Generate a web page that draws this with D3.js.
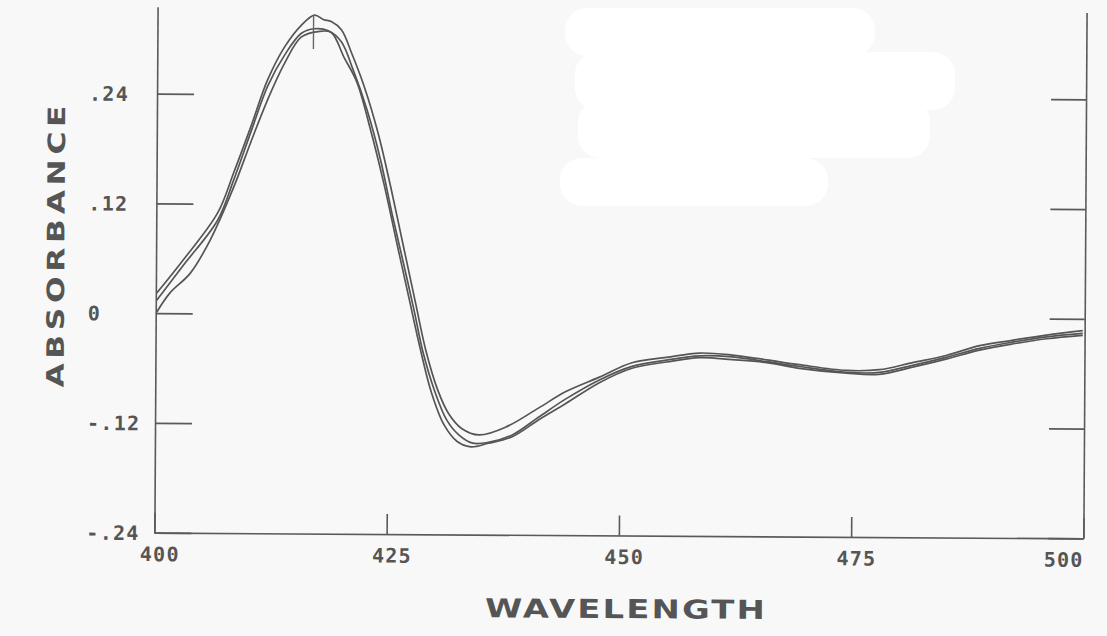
<!DOCTYPE html>
<html>
<head>
<meta charset="utf-8">
<script src="https://cdn.jsdelivr.net/npm/d3@7"></script>
<style>
  body { margin: 0; background: #f8f8f8; }
  svg { display: block; }
  .lbl { font-family: "DejaVu Sans Mono", monospace; font-weight: bold; fill: #555; }
  .title { font-family: "DejaVu Sans", sans-serif; font-weight: bold; fill: #555; }
</style>
</head>
<body>
<div id="chart"></div>
<script>
// wavelength (nm) ticks and absorbance ticks
const wavelengthTicks = [400, 425, 450, 475, 500];
const absorbanceTicks = [-0.24, -0.12, 0, 0.12, 0.24];
const absorbanceLabels = ["-.24", "-.12", "0", ".12", ".24"];

// three scans, [wavelength, absorbance]
const scan1 = [[400.1,0.022],[402.9,0.058],[406.6,0.110],[408.3,0.154],[410.1,0.204],[411.9,0.256],[413.7,0.292],[415.5,0.316],[416.9,0.327],[417.9,0.322],[418.7,0.320],[419.8,0.311],[420.9,0.286],[422.3,0.249],[423.8,0.199],[425.2,0.140],[426.7,0.071],[428.0,0.011],[429.1,-0.039],[430.4,-0.082],[431.6,-0.108],[433.0,-0.124],[434.9,-0.131],[437.8,-0.122],[441.3,-0.101],[444.2,-0.083],[447.8,-0.067],[451.3,-0.051],[455.0,-0.045],[458.6,-0.040],[462.1,-0.042],[465.8,-0.047],[469.3,-0.052],[474.4,-0.058],[477.9,-0.057],[481.5,-0.049],[485.1,-0.041],[488.7,-0.030],[492.2,-0.024],[495.9,-0.018],[499.8,-0.013]];
const scan2 = [[400.1,0.014],[402.9,0.052],[406.6,0.102],[408.3,0.146],[410.1,0.198],[411.9,0.249],[413.7,0.283],[415.5,0.307],[416.9,0.312],[418.4,0.310],[419.8,0.298],[421.1,0.267],[422.6,0.224],[424.1,0.169],[425.4,0.109],[426.5,0.062],[427.8,0.005],[428.8,-0.041],[430.1,-0.084],[431.4,-0.115],[432.7,-0.131],[434.2,-0.140],[435.9,-0.139],[438.4,-0.131],[441.3,-0.111],[444.2,-0.091],[447.8,-0.070],[451.3,-0.055],[455.0,-0.048],[458.6,-0.043],[462.1,-0.044],[465.8,-0.049],[469.3,-0.054],[474.4,-0.060],[477.9,-0.060],[481.5,-0.052],[485.1,-0.043],[488.7,-0.033],[492.2,-0.026],[495.9,-0.020],[499.8,-0.016]];
const scan3 = [[400.1,0.001],[401.5,0.022],[403.7,0.044],[405.8,0.080],[408.3,0.138],[410.1,0.187],[411.9,0.234],[413.7,0.274],[415.5,0.303],[417.3,0.309],[418.7,0.308],[420.1,0.281],[421.5,0.254],[423.0,0.202],[424.5,0.142],[426.0,0.074],[427.3,0.016],[428.4,-0.033],[429.7,-0.084],[431.1,-0.120],[432.5,-0.138],[434.0,-0.144],[435.9,-0.140],[438.4,-0.133],[441.3,-0.114],[444.2,-0.096],[447.8,-0.073],[451.3,-0.057],[455.0,-0.050],[458.6,-0.045],[462.1,-0.047],[465.8,-0.050],[469.3,-0.056],[474.4,-0.061],[477.9,-0.062],[481.5,-0.054],[485.1,-0.045],[488.7,-0.035],[492.2,-0.028],[495.9,-0.022],[499.8,-0.018]];

// cursor mark at the peak
const cursorWavelength = 416.8;
const cursorRange = [0.290, 0.327];

const W = 1107, H = 636;
const svg = d3.select("#chart").append("svg")
    .attr("width", W)
    .attr("height", H);

// scanned page is slightly rotated
const g = svg.append("g").attr("transform", "rotate(0.35, 620, 270)");

const x = d3.scaleLinear().domain([400, 500]).range([156, 1085]);
const y = d3.scaleLinear().domain([-0.24, 0.335]).range([535.5, 9.6]);

const axisColor = "#5a5a5a";

// left axis, ticks pointing inward
const left = g.append("g")
    .attr("transform", `translate(${x(400)},0)`)
    .call(d3.axisLeft(y).tickValues(absorbanceTicks).tickSize(-37).tickSizeOuter(0)
        .tickFormat((d, i) => absorbanceLabels[i]));
left.selectAll("text")
    .attr("class", "lbl")
    .attr("x", -68)
    .attr("dy", null)
    .attr("dominant-baseline", "central")
    .attr("text-anchor", "start")
    .style("font-size", "20px")
    .style("letter-spacing", "1.3px");

// right axis, no labels
g.append("g")
    .attr("transform", `translate(${x(500)},0)`)
    .call(d3.axisRight(y).tickValues(absorbanceTicks).tickSize(-35).tickSizeOuter(0).tickFormat(""));

// bottom axis
const bottom = g.append("g")
    .attr("transform", `translate(0,${y(-0.24)})`)
    .call(d3.axisBottom(x).tickValues(wavelengthTicks).tickSize(-20).tickSizeOuter(0));
bottom.selectAll("text")
    .attr("class", "lbl")
    .attr("y", 21.5)
    .attr("dy", null)
    .attr("dominant-baseline", "central")
    .attr("dx", d => d === 500 ? 0 : 5)
    .attr("text-anchor", d => d === 500 ? "end" : "middle")
    .style("font-size", "20px")
    .style("letter-spacing", "1.3px");

g.selectAll(".domain, .tick line")
    .attr("stroke", axisColor)
    .attr("stroke-width", 1.6);
g.selectAll(".tick text").attr("fill", "#555");

// scans
const line = d3.line()
    .x(d => x(d[0]))
    .y(d => y(d[1]))
    .curve(d3.curveCatmullRom);

g.selectAll("path.scan")
    .data([scan1, scan2, scan3])
    .enter().append("path")
    .attr("class", "scan")
    .attr("d", line)
    .attr("fill", "none")
    .attr("stroke", "#555")
    .attr("stroke-width", 1.7);

g.append("line")
    .attr("x1", x(cursorWavelength)).attr("x2", x(cursorWavelength))
    .attr("y1", y(cursorRange[0])).attr("y2", y(cursorRange[1]))
    .attr("stroke", "#666")
    .attr("stroke-width", 1.4);

// axis titles (plotter lettering is wide, so stretch horizontally)
g.append("text")
    .attr("class", "title")
    .attr("transform", "translate(56,250) rotate(-90) scale(1.3,1)")
    .attr("text-anchor", "middle")
    .attr("dominant-baseline", "central")
    .attr("textLength", 282 / 1.3)
    .attr("lengthAdjust", "spacing")
    .style("font-size", "24px")
    .text("ABSORBANCE");

g.append("text")
    .attr("class", "title")
    .attr("transform", "translate(627,609) scale(1.3,1)")
    .attr("text-anchor", "middle")
    .attr("dominant-baseline", "central")
    .attr("textLength", 280 / 1.3)
    .attr("lengthAdjust", "spacing")
    .style("font-size", "26px")
    .text("WAVELENGTH");

// white redaction patches on the scan
const patches = [[565, 8, 310, 48], [575, 52, 380, 58], [578, 100, 352, 58], [560, 158, 268, 48]];
svg.selectAll("rect.patch")
    .data(patches)
    .enter().append("rect")
    .attr("class", "patch")
    .attr("x", d => d[0]).attr("y", d => d[1])
    .attr("width", d => d[2]).attr("height", d => d[3])
    .attr("rx", 22)
    .attr("fill", "#fff");
</script>
</body>
</html>
